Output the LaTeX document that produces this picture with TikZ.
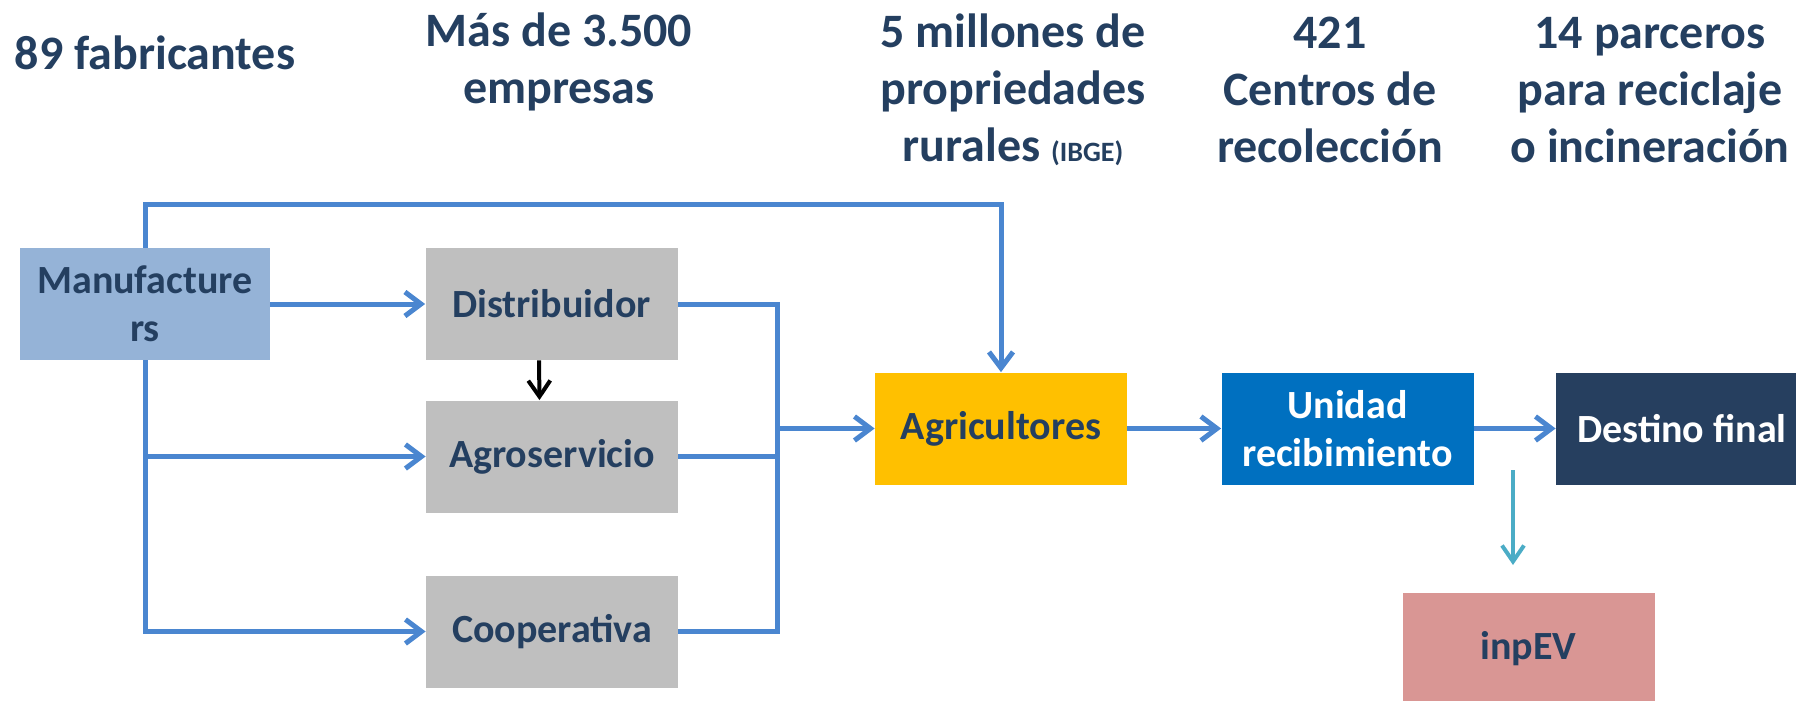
\documentclass[tikz,border=0pt]{standalone}
\usepackage{fontspec}
\setmainfont{Carlito}
\usetikzlibrary{arrows.meta}
\definecolor{txtblue}{HTML}{243F60}
\definecolor{arrowblue}{HTML}{4A86D0}
\definecolor{manufill}{HTML}{95B3D7}
\definecolor{greyfill}{HTML}{BFBFBF}
\definecolor{agrifill}{HTML}{FFC000}
\definecolor{unifill}{HTML}{0070C0}
\definecolor{destfill}{HTML}{263F5F}
\definecolor{inpfill}{HTML}{D99694}
\definecolor{tealarrow}{HTML}{4BACC6}
\tikzset{
  box/.style={minimum width=126pt, minimum height=56pt, inner sep=0pt, align=center,
    font=\fontsize{20}{24}\selectfont\bfseries, text=txtblue},
  head/.style={align=center, font=\fontsize{24}{28.5}\selectfont\bfseries, text=txtblue},
  link/.style={draw=arrowblue, line width=2.5pt},
  flow/.style={link, -{Straight Barb[length=8pt,width=12pt]}},
}

\begin{document}
\begin{tikzpicture}[x=0.5pt,y=-0.5pt]
\clip (0,0) rectangle (1796,701);
% headings
\node[head] (h1) at (155,53) {89 fabricantes};
\node[head] (h2) at (559,62) {Más de 3.500\\empresas};
\node[head] (h3) at (1013,90) {5 millones de\\propriedades\\rurales {\fontsize{14}{15}\selectfont (IBGE)}};
\node[head] (h4) at (1330,90) {421\\Centros de\\recolección};
\node[head] (h5) at (1650,90) {14 parceros\\para reciclaje\\o incineración};
% boxes
\node[box, fill=manufill, minimum width=125pt] (manu) at (145,304) {Manufacture\\rs};
\node[box, fill=greyfill] (distrib) at (551.5,304) {Distribuidor};
\node[box, fill=greyfill] (agro) at (552,456.5) {Agroservicio};
\node[box, fill=greyfill] (coop) at (552,631.5) {Cooperativa};
\node[box, fill=agrifill] (agric) at (1001,428.5) {Agricultores};
\node[box, fill=unifill, text=white] (unidad) at (1347.5,428.5) {Unidad\\recibimiento};
\node[box, fill=destfill, text=white] (destino) at (1682,428.5) {Destino final};
\node[box, fill=inpfill] (inpev) at (1528.5,648.5) {inpEV};
% connectors
\coordinate (topline) at (145,205);
\coordinate (join) at (777,428.5);
\coordinate (tealstart) at (1513,470);
\coordinate (tealend) at (1513,565);
\draw[flow] (manu.north) -- (topline) -| (agric.north);
\draw[flow] (manu.east) -- (distrib.west);
\draw[flow] (manu.south) |- (agro.west);
\draw[flow] (manu.south) |- (coop.west);
\draw[link] (distrib.east) -| (join);
\draw[link] (coop.east) -| (join);
\draw[link] (agro.east) -- (agro.east -| join);
\draw[flow] (join) -- (agric.west);
\draw[black, line width=2pt, -{Straight Barb[length=8pt,width=11pt]}]
  ([xshift=-6.25pt]distrib.south) -- ([xshift=-6.25pt]agro.north);
\draw[flow] (agric.east) -- (unidad.west);
\draw[flow] (unidad.east) -- (destino.west);
\draw[draw=tealarrow, line width=2pt, -{Straight Barb[length=8pt,width=11pt]}] (tealstart) -- (tealend);
\end{tikzpicture}
\end{document}
